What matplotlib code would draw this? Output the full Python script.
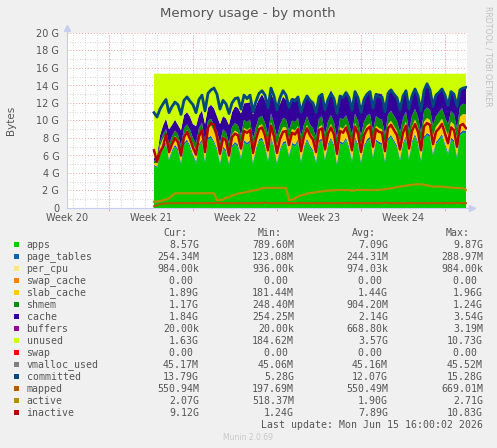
import numpy as np
import matplotlib
matplotlib.use("Agg")
import matplotlib.pyplot as plt
from matplotlib.patches import Rectangle

plt.rcParams['font.family'] = ['DejaVu Sans']

# time axis in days since start of week 20, one sample every 6 hours
t = 7.25 + 0.25 * np.arange(105)
total_mem = 15.35  # GB, physical RAM

# stacked areas (GB)
apps = [4.80, 4.60, 6.10, 6.80,
        7.30, 5.40, 6.40, 7.00,
        6.50, 5.00, 7.20, 7.60,
        6.90, 5.90, 5.10, 7.10,
        7.60, 5.20, 7.80, 8.00,
        7.40, 6.60, 5.00, 6.80,
        6.40, 4.90, 6.90, 7.30,
        7.00, 5.60, 7.50, 7.20,
        7.50, 5.00, 6.60, 7.60,
        7.80, 6.90, 5.30, 7.90,
        6.80, 5.00, 6.50, 7.30,
        7.40, 5.80, 7.20, 7.00,
        7.60, 5.20, 6.80, 7.70,
        6.90, 6.40, 5.10, 7.50,
        7.70, 5.40, 7.10, 7.80,
        7.00, 4.90, 7.40, 7.20,
        7.80, 6.80, 5.30, 7.90,
        7.10, 5.10, 6.90, 7.60,
        7.90, 5.70, 7.60, 7.30,
        7.20, 5.20, 7.70, 8.10,
        7.50, 6.90, 5.40, 7.20,
        8.00, 5.50, 7.40, 8.20,
        7.30, 5.30, 7.90, 8.30,
        8.10, 6.00, 7.30, 7.70,
        8.20, 7.10, 6.10, 7.80,
        7.50, 5.70, 8.30, 8.60,
        8.57]
page_tables = [0.13, 0.15, 0.19, 0.22,
               0.23, 0.24, 0.24, 0.25,
               0.25, 0.24, 0.25, 0.26,
               0.25, 0.24, 0.25, 0.25,
               0.26, 0.25, 0.26, 0.26,
               0.25, 0.24, 0.25, 0.25,
               0.25, 0.24, 0.25, 0.26,
               0.26, 0.25, 0.26, 0.26,
               0.25, 0.24, 0.25, 0.26,
               0.26, 0.25, 0.26, 0.27,
               0.25, 0.24, 0.25, 0.25,
               0.26, 0.25, 0.25, 0.26,
               0.26, 0.24, 0.25, 0.26,
               0.25, 0.24, 0.26, 0.26,
               0.26, 0.25, 0.26, 0.26,
               0.25, 0.24, 0.25, 0.26,
               0.26, 0.25, 0.26, 0.27,
               0.25, 0.24, 0.25, 0.26,
               0.26, 0.25, 0.26, 0.26,
               0.25, 0.24, 0.26, 0.27,
               0.26, 0.25, 0.25, 0.26,
               0.27, 0.25, 0.26, 0.27,
               0.26, 0.25, 0.27, 0.28,
               0.27, 0.25, 0.26, 0.27,
               0.27, 0.26, 0.26, 0.27,
               0.26, 0.25, 0.27, 0.28,
               0.25]
slab_cache = [0.20, 0.40, 0.75, 0.90,
              0.95, 1.10, 0.95, 1.00,
              1.05, 1.20, 1.00, 1.05,
              1.10, 1.15, 1.30, 1.10,
              1.20, 1.40, 1.15, 1.20,
              1.10, 1.15, 1.35, 1.15,
              1.20, 1.40, 1.25, 1.30,
              1.35, 1.55, 1.40, 1.45,
              1.45, 1.70, 1.50, 1.55,
              1.50, 1.60, 1.80, 1.65,
              1.60, 1.90, 1.75, 1.70,
              1.55, 1.80, 1.60, 1.60,
              1.50, 1.75, 1.55, 1.55,
              1.45, 1.50, 1.70, 1.50,
              1.50, 1.75, 1.55, 1.55,
              1.55, 1.80, 1.60, 1.60,
              1.50, 1.55, 1.75, 1.55,
              1.55, 1.85, 1.60, 1.60,
              1.50, 1.75, 1.55, 1.55,
              1.55, 1.80, 1.60, 1.60,
              1.60, 1.65, 1.85, 1.65,
              1.60, 1.85, 1.65, 1.65,
              1.65, 1.90, 1.70, 1.70,
              1.70, 1.95, 1.75, 1.75,
              1.75, 1.80, 1.96, 1.80,
              1.80, 1.95, 1.85, 1.85,
              1.89]
shmem = [0.25, 0.35, 0.45, 0.50,
         0.55, 0.55, 0.60, 0.60,
         0.60, 0.65, 0.65, 0.65,
         0.70, 0.70, 0.70, 0.70,
         0.70, 0.75, 0.75, 0.75,
         0.75, 0.80, 0.80, 0.80,
         0.80, 0.85, 0.85, 0.85,
         0.85, 0.90, 0.90, 0.90,
         0.90, 0.95, 0.95, 0.95,
         0.95, 1.00, 1.00, 1.00,
         1.00, 1.00, 1.00, 1.00,
         0.95, 1.00, 0.95, 0.95,
         0.95, 0.95, 0.95, 0.95,
         0.95, 1.00, 1.00, 1.00,
         1.00, 1.00, 1.00, 1.00,
         1.00, 1.05, 1.05, 1.05,
         1.05, 1.05, 1.05, 1.05,
         1.05, 1.10, 1.10, 1.10,
         1.10, 1.10, 1.10, 1.10,
         1.10, 1.15, 1.15, 1.15,
         1.15, 1.15, 1.15, 1.15,
         1.15, 1.20, 1.20, 1.20,
         1.20, 1.20, 1.20, 1.20,
         1.20, 1.24, 1.22, 1.22,
         1.20, 1.22, 1.20, 1.20,
         1.18, 1.20, 1.18, 1.18,
         1.17]
cache = [0.30, 0.45, 0.80, 1.00,
         1.20, 1.70, 1.30, 1.25,
         1.10, 1.80, 1.50, 1.40,
         1.50, 1.60, 2.00, 1.45,
         1.40, 2.00, 1.50, 1.60,
         1.90, 1.70, 2.20, 1.50,
         1.60, 2.10, 1.70, 1.90,
         2.00, 2.50, 1.90, 2.20,
         2.00, 2.80, 2.40, 2.10,
         2.50, 2.60, 3.00, 2.30,
         2.70, 3.20, 2.40, 2.50,
         2.20, 2.90, 2.60, 2.70,
         2.40, 3.20, 2.80, 2.50,
         2.80, 2.70, 3.30, 2.50,
         2.40, 3.10, 2.80, 2.90,
         2.90, 3.40, 2.60, 2.70,
         2.50, 2.70, 3.30, 2.60,
         2.80, 3.30, 2.90, 2.60,
         2.50, 3.10, 2.60, 2.90,
         2.90, 3.50, 2.70, 2.50,
         2.70, 2.60, 3.20, 2.80,
         2.40, 3.20, 2.70, 2.30,
         2.60, 3.00, 2.40, 2.50,
         2.20, 2.90, 2.60, 2.40,
         2.30, 2.20, 2.80, 2.10,
         2.20, 2.60, 1.90, 1.95,
         1.84]

# line series (GB)
committed = [10.9, 10.4, 11.3, 11.9,
             12.4, 10.9, 11.6, 12.1,
             11.8, 10.7, 12.3, 12.7,
             12.2, 11.8, 10.9, 12.4,
             12.9, 11.1, 13.1, 13.5,
             13.7, 13.0, 11.3, 12.3,
             11.9, 10.8, 12.0, 12.5,
             12.6, 11.3, 12.9, 12.5,
             12.9, 11.0, 12.2, 13.1,
             13.4, 12.9, 11.5, 13.7,
             12.8, 11.2, 12.6, 13.4,
             12.9, 11.5, 12.4, 12.2,
             12.7, 10.9, 12.1, 12.8,
             12.3, 12.0, 10.9, 12.7,
             13.0, 11.2, 12.4, 13.1,
             12.5, 10.8, 12.8, 12.6,
             13.2, 12.6, 11.2, 13.3,
             12.6, 10.9, 12.4, 13.0,
             13.3, 11.4, 13.0, 12.7,
             12.7, 11.0, 13.1, 13.5,
             13.0, 12.6, 11.2, 12.8,
             13.4, 11.3, 12.8, 13.6,
             12.8, 11.1, 13.4, 14.2,
             13.5, 11.6, 12.9, 13.2,
             13.6, 12.9, 11.7, 13.3,
             13.0, 11.6, 13.5, 13.7,
             13.79]
mapped = [0.20, 0.30, 0.42, 0.50,
          0.52, 0.55, 0.54, 0.55,
          0.55, 0.58, 0.55, 0.54,
          0.55, 0.56, 0.55, 0.55,
          0.54, 0.57, 0.55, 0.55,
          0.55, 0.60, 0.56, 0.55,
          0.54, 0.56, 0.55, 0.55,
          0.55, 0.58, 0.55, 0.54,
          0.55, 0.57, 0.56, 0.55,
          0.56, 0.62, 0.56, 0.55,
          0.55, 0.57, 0.55, 0.55,
          0.54, 0.56, 0.55, 0.55,
          0.55, 0.59, 0.55, 0.55,
          0.55, 0.57, 0.56, 0.55,
          0.55, 0.58, 0.55, 0.55,
          0.54, 0.56, 0.55, 0.54,
          0.55, 0.60, 0.56, 0.55,
          0.55, 0.57, 0.55, 0.55,
          0.54, 0.56, 0.55, 0.55,
          0.55, 0.61, 0.56, 0.55,
          0.55, 0.57, 0.55, 0.54,
          0.55, 0.58, 0.56, 0.55,
          0.55, 0.56, 0.55, 0.55,
          0.54, 0.59, 0.55, 0.55,
          0.55, 0.57, 0.56, 0.55,
          0.55, 0.60, 0.55, 0.55,
          0.55]
active = [0.72, 0.74, 0.80, 0.88,
          0.95, 1.10, 1.40, 1.68,
          1.68, 1.68, 1.68, 1.68,
          1.68, 1.68, 1.68, 1.68,
          1.68, 1.68, 1.69, 1.68,
          1.68, 0.90, 0.92, 0.95,
          1.20, 1.22, 1.45, 1.50,
          1.68, 1.70, 1.75, 1.85,
          1.90, 2.00, 2.05, 2.10,
          2.30, 2.30, 2.30, 2.30,
          2.30, 2.30, 2.31, 2.30,
          2.30, 0.90, 0.95, 1.10,
          1.30, 1.45, 1.50, 1.65,
          1.70, 1.75, 1.80, 1.87,
          1.90, 1.95, 2.00, 2.00,
          2.02, 2.05, 2.06, 2.06,
          2.05, 2.06, 1.95, 2.06,
          2.06, 2.07, 2.06, 2.06,
          2.05, 2.06, 2.06, 2.07,
          2.10, 2.15, 2.20, 2.25,
          2.30, 2.40, 2.46, 2.50,
          2.55, 2.60, 2.65, 2.70,
          2.71, 2.70, 2.66, 2.60,
          2.50, 2.45, 2.45, 2.45,
          2.45, 2.40, 2.35, 2.32,
          2.30, 2.30, 2.28, 2.25,
          2.07]
inactive = [6.6, 5.3, 6.4, 7.0,
            8.4, 6.4, 7.3, 8.0,
            7.5, 6.0, 8.1, 8.7,
            7.9, 6.9, 6.1, 8.2,
            8.9, 6.4, 9.2, 9.7,
            9.5, 8.1, 6.2, 8.0,
            7.7, 6.0, 8.1, 8.5,
            8.3, 6.8, 8.8, 8.6,
            8.9, 6.3, 7.9, 9.0,
            9.2, 8.3, 6.6, 9.4,
            8.2, 6.3, 7.9, 8.7,
            8.8, 7.2, 8.6, 8.4,
            9.0, 6.5, 8.2, 9.1,
            8.3, 7.8, 6.4, 8.9,
            9.1, 6.7, 8.5, 9.2,
            8.4, 6.2, 8.8, 8.6,
            9.2, 8.2, 6.6, 9.3,
            8.5, 6.4, 8.3, 9.0,
            9.3, 7.0, 9.0, 8.7,
            8.6, 6.5, 9.1, 9.5,
            8.9, 8.3, 6.7, 8.6,
            9.4, 6.8, 8.8, 9.6,
            8.7, 6.6, 9.3, 9.7,
            9.5, 7.3, 8.7, 9.1,
            9.6, 8.5, 7.4, 9.2,
            8.9, 7.0, 9.4, 9.6,
            9.12]

# legend table
names = ['apps', 'page_tables', 'per_cpu', 'swap_cache', 'slab_cache', 'shmem', 'cache',
         'buffers', 'unused', 'swap', 'vmalloc_used', 'committed', 'mapped', 'active', 'inactive']
colors = ['#00CC00', '#0066B3', '#FFE680', '#FF8000', '#FFCC00', '#008F00', '#330099',
          '#990099', '#CCFF00', '#FF0000', '#808080', '#00487D', '#B35A00', '#B38F00', '#B30000']
cur = ['8.57G', '254.34M', '984.00k', '0.00 ', '1.89G', '1.17G', '1.84G', '20.00k',
       '1.63G', '0.00 ', '45.17M', '13.79G', '550.94M', '2.07G', '9.12G']
mins = ['789.60M', '123.08M', '936.00k', '0.00 ', '181.44M', '248.40M', '254.25M', '20.00k',
        '184.62M', '0.00 ', '45.06M', '5.28G', '197.69M', '518.37M', '1.24G']
avgs = ['7.09G', '244.31M', '974.03k', '0.00 ', '1.44G', '904.20M', '2.14G', '668.80k',
        '3.57G', '0.00 ', '45.16M', '12.07G', '550.49M', '1.90G', '7.89G']
maxs = ['9.87G', '288.97M', '984.00k', '0.00 ', '1.96G', '1.24G', '3.54G', '3.19M',
        '10.73G', '0.00 ', '45.52M', '15.28G', '669.01M', '2.71G', '10.83G']
week_pos = [0, 7, 14, 21, 28]
week_labels = ['Week 20', 'Week 21', 'Week 22', 'Week 23', 'Week 24']

W, H = 497, 448
fig = plt.figure(figsize=(W / 100, H / 100), dpi=100, facecolor='#F0F0F0')
ax = fig.add_axes([67 / W, 1 - 208 / H, 400 / W, 175 / H])
ax.set_facecolor('white')

used = np.array(apps) + np.array(page_tables) + np.array(slab_cache) + np.array(shmem) + np.array(cache)
unused = total_mem - used

ax.stackplot(t, apps, page_tables, slab_cache, shmem, cache, unused,
             colors=['#00CC00', '#0066B3', '#FFCC00', '#008F00', '#330099', '#CCFF00'],
             linewidth=0, zorder=2)
ax.plot(t, committed, color='#00487D', lw=2.0, zorder=3)
ax.plot(t, mapped, color='#B35A00', lw=1.5, zorder=3)
ax.plot(t, active, color='#B38F00', lw=1.6, zorder=3)
ax.plot(t, inactive, color='#B30000', lw=1.8, zorder=3)

ax.set_xlim(0, 400 / 12)
ax.set_ylim(0, 20)

# grid
minor_c = '#C8C8C8'
major_c = '#F0A0A0'
dots = (0, (1, 2))
for d in np.arange(0.5, 33.4, 1.0):
    ax.axvline(d, color=minor_c, lw=0.6, ls=dots, zorder=1)
for d in [3.5, 10.5, 17.5, 24.5, 31.5]:
    ax.axvline(d, color=major_c, lw=0.7, ls=dots, zorder=1.1)
for g in range(1, 21):
    ax.axhline(g, color=major_c if g % 2 == 0 else minor_c, lw=0.7 if g % 2 == 0 else 0.6,
               ls=dots, zorder=1.1 if g % 2 == 0 else 1)

ax.set_yticks(range(0, 21, 2))
ax.set_yticklabels(['0'] + ['%d G' % v for v in range(2, 21, 2)])
ax.set_xticks(week_pos)
ax.set_xticklabels(week_labels)
ax.set_xticks([3.5, 10.5, 17.5, 24.5, 31.5], minor=True)
ax.tick_params(axis='both', which='major', length=0, labelsize=7, labelcolor='#555555')
ax.tick_params(axis='y', pad=5.5)
ax.tick_params(axis='x', pad=3.8)
ax.tick_params(axis='x', which='minor', length=2, color='#F0A0A0', direction='out')

axis_c = '#C8CCF0'
for s in ['top', 'right']:
    ax.spines[s].set_visible(False)
ax.spines['left'].set_color(axis_c)
ax.spines['bottom'].set_color(axis_c)
ax.plot([0, 0], [20, 20.5], color=axis_c, lw=0.8, clip_on=False)
ax.plot([0], [20.6], marker='^', color=axis_c, ms=4, clip_on=False)
ax.plot([33.33, 33.6], [0, 0], color=axis_c, lw=0.8, clip_on=False)
ax.plot([33.75], [0], marker='>', color=axis_c, ms=4, clip_on=False)

txt_c = '#555555'
fig.text(248 / W, 1 - 13 / H, 'Memory usage - by month', ha='center', va='center',
         fontsize=9.5, color=txt_c)
fig.text(11 / W, 1 - 120 / H, 'Bytes', rotation=90, ha='center', va='center',
         fontsize=7.5, color=txt_c)
fig.text(488 / W, 1 - 56 / H, 'RRDTOOL / TOBI OETIKER', rotation=270, ha='center',
         va='center', fontsize=5.7, color='#C0C0C0')

# legend table
mono = 'DejaVu Sans Mono'
fs = 7.1
hy = 232.7
for x, lab in zip([187, 282, 376, 470], ['Cur:', 'Min:', 'Avg:', 'Max:']):
    fig.text(x / W, 1 - hy / H, lab, ha='right', va='center', family=mono, fontsize=fs, color=txt_c)
for i, name in enumerate(names):
    y = 244.7 + 12.0 * i
    fig.patches.append(Rectangle((14 / W, 1 - (y + 2.5) / H), 5 / W, 5 / H,
                                 transform=fig.transFigure, facecolor=colors[i],
                                 edgecolor='none', figure=fig))
    fig.text(26.5 / W, 1 - y / H, name, ha='left', va='center', family=mono, fontsize=fs, color=txt_c)
    for x, col in zip([199, 294, 388, 483], [cur, mins, avgs, maxs]):
        fig.text(x / W, 1 - y / H, col[i], ha='right', va='center', family=mono,
                 fontsize=fs, color=txt_c)
fig.text(483 / W, 1 - 424.5 / H, 'Last update: Mon Jun 15 16:00:02 2026', ha='right',
         va='center', family=mono, fontsize=fs, color=txt_c)
fig.text(248 / W, 1 - 437 / H, 'Munin 2.0.69', ha='center', va='center', fontsize=5.5,
         color='#C8C8C8')

fig.savefig('out.png', dpi=100, facecolor=fig.get_facecolor())
